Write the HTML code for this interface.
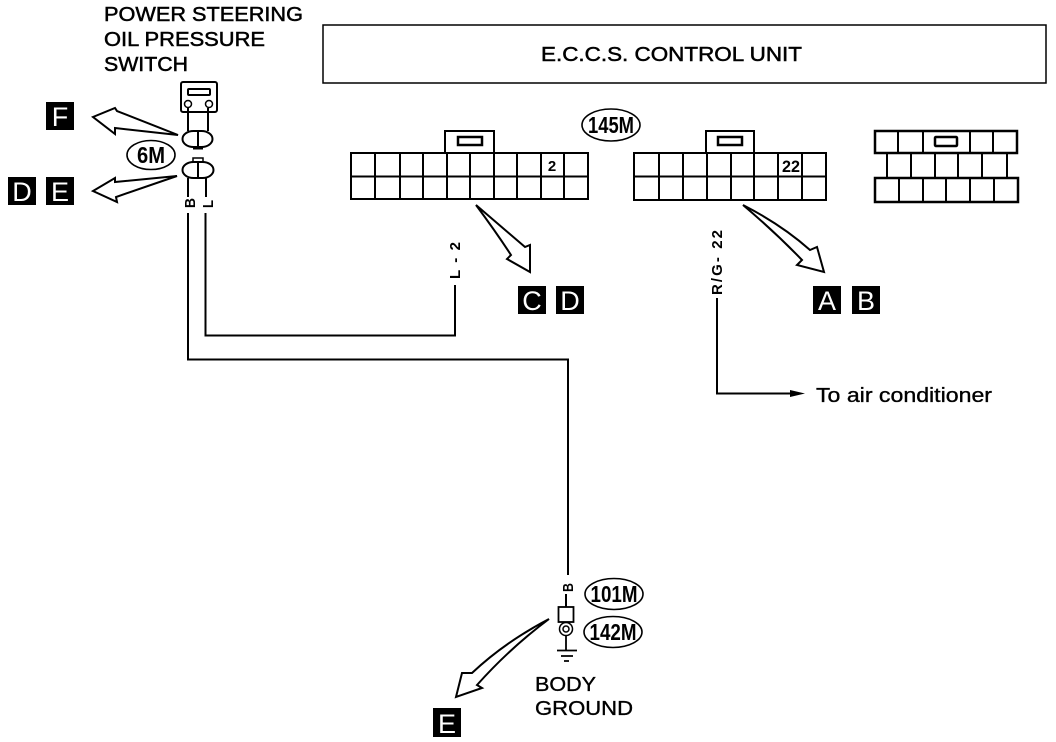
<!DOCTYPE html>
<html><head><meta charset="utf-8"><style>
html,body{margin:0;padding:0;background:#fff}
svg{display:block}
text{font-family:"Liberation Sans",sans-serif;fill:#000}
.t{font-size:20px;stroke:#000;stroke-width:.5px}
.u{font-size:20px;stroke:#000;stroke-width:.35px}
.o{font-size:23px;font-weight:bold;text-anchor:middle}
.w{fill:#fff;font-size:27px;text-anchor:middle}
.r{font-size:15px;font-weight:bold}
</style></head><body>
<svg width="1056" height="742" viewBox="0 0 1056 742" xmlns="http://www.w3.org/2000/svg">
<rect width="1056" height="742" fill="#fff"/>
<text class="t" x="104" y="21" textLength="199" lengthAdjust="spacingAndGlyphs">POWER STEERING</text>
<text class="t" x="104" y="46" textLength="161" lengthAdjust="spacingAndGlyphs">OIL PRESSURE</text>
<text class="t" x="104" y="71" textLength="84" lengthAdjust="spacingAndGlyphs">SWITCH</text>

<rect x="323" y="25" width="723" height="58" fill="none" stroke="#000" stroke-width="1.500"/>
<text class="t" x="541" y="61" textLength="261" lengthAdjust="spacingAndGlyphs">E.C.C.S. CONTROL UNIT</text>

<g fill="none" stroke="#000" stroke-width="2">
<!-- connector 1 -->
<rect x="351" y="153" width="237" height="46"/>
<path d="M351 176.500H588M375 153V199M400 153V199M423 153V199M447 153V199M470 153V199M494 153V199M517 153V199M541 153V199M564 153V199"/>
<path d="M445 153V131H494V153"/>
<rect x="458" y="137" width="24" height="8" stroke-width="2.500"/>
<!-- connector 2 -->
<rect x="634" y="153" width="192" height="47"/>
<path d="M634 176.500H826M659 153V200M683 153V200M707 153V200M731 153V200M754 153V200M778 153V200M802 153V200"/>
<path d="M706 153V131H754V153"/>
<rect x="718" y="137" width="24" height="8" stroke-width="2.500"/>
<!-- connector 3 -->
<rect x="875" y="131" width="142" height="22" stroke-width="2.500"/>
<path d="M898 131V153M923 131V153M970 131V153M993 131V153"/>
<rect x="935" y="137" width="22" height="9" rx="1" stroke-width="2.500"/>
<path d="M887 153V177M911 153V177M935 153V177M958 153V177M982 153V177M1007 153V177"/>
<rect x="875" y="178" width="143" height="24" stroke-width="2.500"/>
<path d="M899 178V202M923 178V202M946 178V202M970 178V202M994 178V202"/>
<!-- switch -->
<rect x="181" y="82" width="36" height="30" rx="2"/>
<rect x="188" y="89" width="22" height="6" rx="1"/>
<circle cx="188" cy="104" r="3.500" stroke-width="1.500"/>
<circle cx="209" cy="104" r="3.500" stroke-width="1.500"/>
<path d="M188 108V131M208 108V131"/>
<rect x="182.500" y="131" width="30" height="16" rx="11" ry="8"/>
<path d="M198 131V147"/>
<path d="M193 148H203" stroke-width="3"/>
<rect x="182.500" y="162" width="31" height="16" rx="11" ry="8"/>
<path d="M198 162V178"/>
<rect x="193" y="158" width="10" height="4" stroke-width="1.500"/>
<path d="M188 178V197M206 178V197"/>
<!-- wires -->
<path d="M188 213V359.500H568V575"/>
<path d="M205.500 213V335.500H455V285"/>
<path d="M717 298V393.500H790"/>
<!-- ground -->
<path d="M566 594V607"/>
<rect x="558.500" y="607" width="15" height="15" stroke-width="1.800"/>
<circle cx="566" cy="629" r="6.500" stroke-width="1.500"/>
<circle cx="566" cy="629" r="3" stroke-width="1.500"/>
<path d="M566 636V650M557 650.500H577M561 656H573M564 661H569" stroke-width="1.800"/>
<!-- ellipses -->
<ellipse cx="151" cy="155" rx="24" ry="14.500" stroke-width="1.600"/>
<ellipse cx="611" cy="125" rx="29" ry="16" stroke-width="1.600"/>
<ellipse cx="614" cy="594" rx="29" ry="15.500" stroke-width="1.600"/>
<ellipse cx="613" cy="632" rx="29" ry="15.500" stroke-width="1.600"/>
</g>
<path d="M790 390L805 393.500L790 397Z" fill="#000"/>

<!-- hollow arrows -->
<g fill="#fff" stroke="#000" stroke-width="2" stroke-linejoin="miter">
<path d="M178 135L117 111L115 108L93 117L115 134L115 128Z"/>
<path d="M177 176L115 182L115 178L93 191L117 202L116 197Z"/>
<path d="M476 205L525 247L530 245V272L507 259L511 255Q496 232 476 205Z"/>
<path d="M743 205Q782 225 810 250L817 247L824 272L797 265L802 260Q775 232 743 205Z"/>
<path d="M549 619Q505 642 472 673L462 673L456 697L482 688L477 685Q510 648 549 619Z"/>
</g>

<!-- black tags -->
<g fill="#000">
<rect x="46" y="102" width="28" height="28"/>
<rect x="8" y="177" width="28" height="28"/>
<rect x="46" y="177" width="28" height="28"/>
<rect x="518" y="286" width="28" height="28"/>
<rect x="556" y="286" width="28" height="28"/>
<rect x="813" y="286" width="28" height="28"/>
<rect x="852" y="286" width="28" height="28"/>
<rect x="433" y="708" width="28" height="29"/>
</g>
<text class="w" x="60" y="126">F</text>
<text class="w" x="22" y="201">D</text>
<text class="w" x="60" y="201">E</text>
<text class="w" x="532" y="310">C</text>
<text class="w" x="570" y="310">D</text>
<text class="w" x="827" y="310">A</text>
<text class="w" x="866" y="310">B</text>
<text class="w" x="447" y="733">E</text>

<text class="o" x="151" y="163" textLength="28" lengthAdjust="spacingAndGlyphs">6M</text>
<text class="o" x="611" y="133" textLength="46" lengthAdjust="spacingAndGlyphs">145M</text>
<text class="o" x="614" y="602" textLength="47" lengthAdjust="spacingAndGlyphs">101M</text>
<text class="o" x="613" y="640" textLength="47" lengthAdjust="spacingAndGlyphs">142M</text>

<text x="552" y="171" style="font-size:15px;font-weight:bold;text-anchor:middle">2</text>
<text x="791" y="172" style="font-size:17px;font-weight:bold;text-anchor:middle" textLength="18" lengthAdjust="spacingAndGlyphs">22</text>

<text class="r" transform="translate(195 208) rotate(-90)" textLength="10" lengthAdjust="spacingAndGlyphs">B</text>
<text class="r" transform="translate(213 208) rotate(-90)" textLength="8" lengthAdjust="spacingAndGlyphs">L</text>
<text class="r" transform="translate(460 279) rotate(-90)" textLength="37">L - 2</text>
<text class="r" transform="translate(722 295) rotate(-90)" textLength="65">R/G- 22</text>
<text class="r" transform="translate(573 592) rotate(-90)" textLength="9" lengthAdjust="spacingAndGlyphs">B</text>

<text class="u" x="816" y="402" textLength="176" lengthAdjust="spacingAndGlyphs">To air conditioner</text>
<text class="u" x="535" y="691" textLength="61" lengthAdjust="spacingAndGlyphs">BODY</text>
<text class="u" x="535" y="715" textLength="98" lengthAdjust="spacingAndGlyphs">GROUND</text>
</svg>
</body></html>
